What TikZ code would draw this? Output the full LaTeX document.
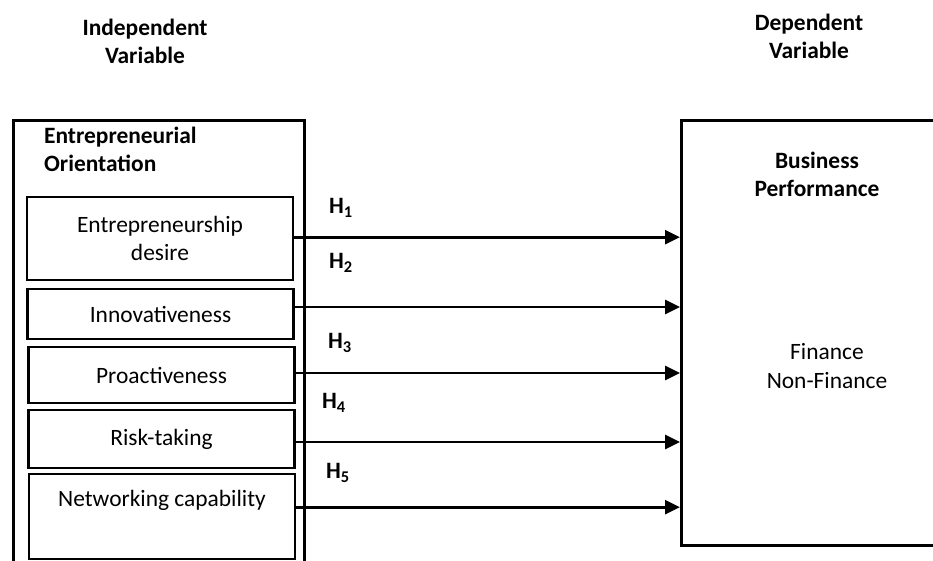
\documentclass[tikz,border=0pt]{standalone}
\usepackage{fontspec}
\setmainfont{Carlito}
\usetikzlibrary{arrows.meta}

\begin{document}
\begin{tikzpicture}[x=0.03cm,y=-0.03cm,
	every node/.style={font=\fontsize{20}{24}\selectfont},
	item/.style={draw,line width=2.4pt,inner sep=0pt,minimum width=7.98cm,align=center},
	hyp/.style={font=\fontsize{20}{24}\selectfont\bfseries},
	arr/.style={line width=2.4pt,-{Triangle[length=0.45cm,width=0.42cm]}}]

	\useasboundingbox (0,0) rectangle (933,560);
	\clip (0,0) rectangle (933,560);

	% titoli
	\node[align=center,font=\fontsize{20}{24}\selectfont\bfseries] (indep) at (145,41) {Independent\\Variable};
	\node[align=center,font=\fontsize{20}{24}\selectfont\bfseries] (dep) at (809,36) {Dependent\\Variable};

	% blocco di sinistra
	\node[draw,line width=2.4pt,anchor=north west,minimum width=8.73cm,minimum height=13.9cm,inner sep=0pt] (eo) at (12,119) {};
	\node[anchor=west,align=left,font=\fontsize{20}{24}\selectfont\bfseries] (eotitle) at (40,149) {Entrepreneurial\\Orientation};

	\node[item,minimum height=2.49cm] (desire) at (160,238.5) {Entrepreneurship\\desire};
	\node[item,minimum height=1.5cm] (innov) at (160.5,314) {Innovativeness};
	\node[item,minimum height=1.68cm] (proact) at (161.5,375) {Proactiveness};
	\node[item,minimum height=1.74cm] (risk) at (161.5,439) {Risk-taking};
	\node[item,minimum height=2.55cm] (network) at (162,516.5) {Networking capability\\\strut};

	% blocco di destra
	\node[draw,line width=2.4pt,anchor=north west,minimum width=8.3cm,minimum height=12.75cm,inner sep=0pt] (perf) at (680,119) {};
	\node[align=center,font=\fontsize{20}{24}\selectfont\bfseries] (perftitle) at (817,174) {Business\\Performance};
	\node[align=center] (fin) at (827,366) {Finance\\Non-Finance};

	% frecce
	\draw[arr] ([yshift=0.04cm]desire.east) -- ([yshift=0.04cm]desire.east -| perf.west);
	\draw[arr] ([yshift=0.21cm]innov.east) -- ([yshift=0.21cm]innov.east -| perf.west);
	\draw[arr] ([yshift=0.06cm]proact.east) -- ([yshift=0.06cm]proact.east -| perf.west);
	\draw[arr] ([yshift=-0.09cm]risk.east) -- ([yshift=-0.09cm]risk.east -| perf.west);
	\draw[arr] ([yshift=0.28cm]network.east) -- ([yshift=0.28cm]network.east -| perf.west);

	\node[hyp] (h1) at (341,208) {H\textsubscript{1}};
	\node[hyp] (h2) at (341,263) {H\textsubscript{2}};
	\node[hyp] (h3) at (340,343) {H\textsubscript{3}};
	\node[hyp] (h4) at (334,403) {H\textsubscript{4}};
	\node[hyp] (h5) at (338,473) {H\textsubscript{5}};

\end{tikzpicture}
\end{document}
